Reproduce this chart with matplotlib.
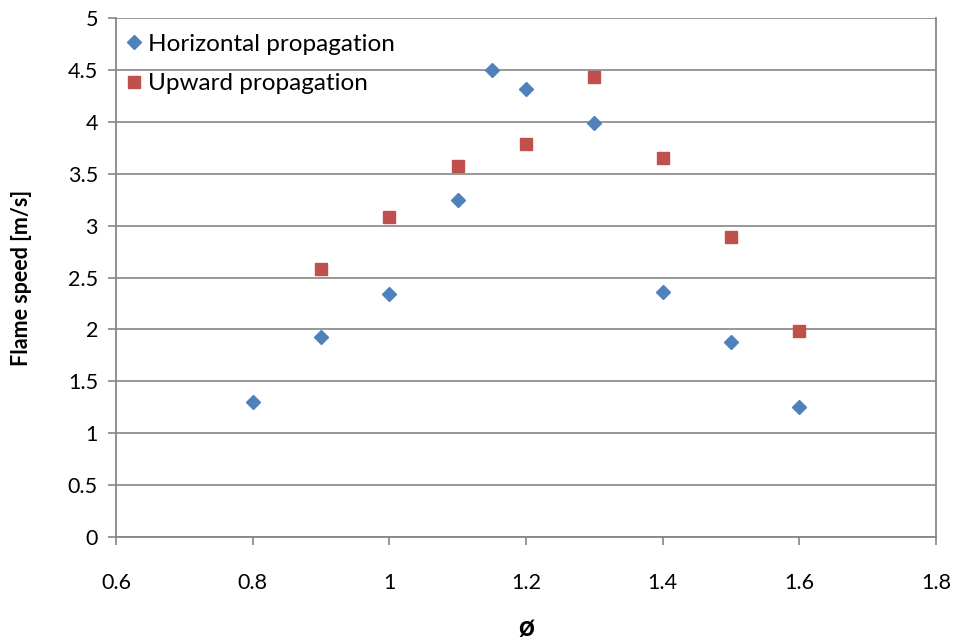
import matplotlib
matplotlib.use("Agg")
import matplotlib.pyplot as plt

# Equivalence ratio and measured flame speed [m/s]
phi_horizontal = [0.8, 0.9, 1.0, 1.1, 1.15, 1.2, 1.3, 1.4, 1.5, 1.6]
speed_horizontal = [1.30, 1.93, 2.34, 3.25, 4.50, 4.32, 3.99, 2.36, 1.88, 1.25]

phi_upward = [0.9, 1.0, 1.1, 1.2, 1.3, 1.4, 1.5, 1.6]
speed_upward = [2.58, 3.08, 3.57, 3.79, 4.43, 3.65, 2.89, 1.98]

x_ticks = [0.6, 0.8, 1.0, 1.2, 1.4, 1.6, 1.8]
x_tick_labels = ["0.6", "0.8", "1", "1.2", "1.4", "1.6", "1.8"]
y_ticks = [0, 0.5, 1, 1.5, 2, 2.5, 3, 3.5, 4, 4.5, 5]
y_tick_labels = ["0", "0.5", "1", "1.5", "2", "2.5", "3", "3.5", "4", "4.5", "5"]

plt.rcParams["font.family"] = ["Lato", "DejaVu Sans"]

fig = plt.figure(figsize=(9.55, 6.43), dpi=100)
ax = fig.add_axes([116 / 955, 1 - 537 / 643, (936 - 116) / 955, (537 - 18) / 643])

grid_color = "#868686"
ax.set_xlim(0.6, 1.8)
ax.set_ylim(0, 5)
ax.set_xticks(x_ticks)
ax.set_xticklabels(x_tick_labels)
ax.set_yticks(y_ticks)
ax.set_yticklabels(y_tick_labels)
ax.yaxis.grid(True, color=grid_color, linewidth=1.2)
ax.set_axisbelow(True)

for side in ["left", "bottom", "right"]:
    ax.spines[side].set_color(grid_color)
    ax.spines[side].set_linewidth(1.3)
ax.spines["top"].set_visible(False)
ax.tick_params(axis="both", colors=grid_color, length=6, width=1.2, labelsize=15.5,
               labelcolor="black")
ax.tick_params(axis="x", pad=20)
ax.tick_params(axis="y", pad=7)

ax.plot(phi_horizontal, speed_horizontal, linestyle="none", marker="D",
        markersize=7.5, color="#4F81BD", label="Horizontal propagation")
ax.plot(phi_upward, speed_upward, linestyle="none", marker="s",
        markersize=9, color="#C0504D", label="Upward propagation")

ax.set_xlabel("ø", fontsize=20, fontweight="bold", labelpad=16)
ax.set_ylabel("Flame speed [m/s]", fontsize=15.5, fontweight="bold", labelpad=26)

leg = ax.legend(loc="upper left", bbox_to_anchor=(-0.008, 1.0), frameon=False,
                fontsize=17.5, handlelength=0.7, handletextpad=0.25,
                labelspacing=0.75, borderaxespad=0.25)

fig.savefig("out.png", dpi=100, facecolor="white")
